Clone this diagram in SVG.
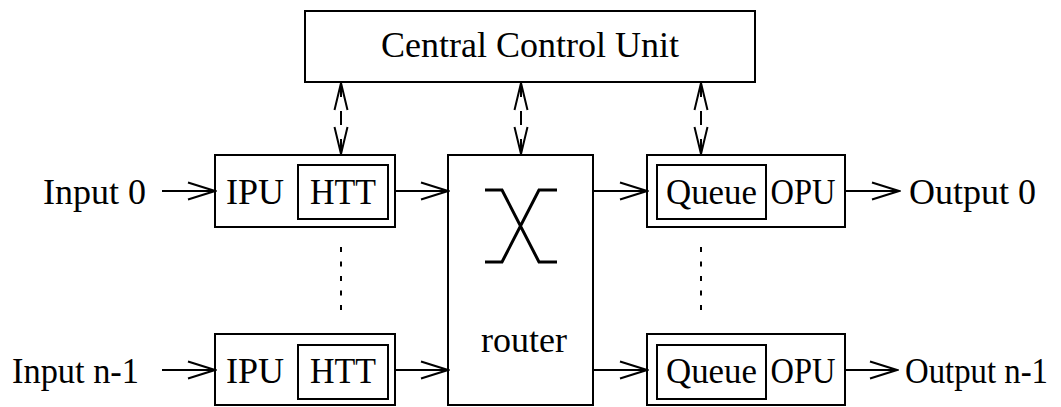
<svg xmlns="http://www.w3.org/2000/svg" width="1061" height="407" viewBox="0 0 1061 407">
  <style>
    .box { fill: #fff; stroke: #000; stroke-width: 2; }
    .inner { fill: none; stroke: #000; stroke-width: 2; }
    .lbl { font-family: "Liberation Serif", "Times New Roman", serif; font-size: 36px; fill: #000; }
    .flow { stroke: #000; stroke-width: 2; fill: none; marker-end: url(#open); }
    .ctl { stroke: #000; stroke-width: 2; fill: none; stroke-dasharray: 14 14; marker-start: url(#openC); marker-end: url(#openC); }
    .dots { stroke: #000; stroke-width: 2; stroke-dasharray: 5 9.5; }
    .xbar { stroke: #000; stroke-width: 3; fill: none; }
  </style>
  <defs>
    <!-- open V arrowhead for data paths -->
    <marker id="open" viewBox="-30 -10 32 20" refX="0" refY="0" markerWidth="32" markerHeight="20" markerUnits="userSpaceOnUse" orient="auto">
      <path d="M-27,-8.5 L0,0 L-27,8.5" fill="none" stroke="#000" stroke-width="2"/>
    </marker>
    <!-- narrower open arrowhead for control links, both ends -->
    <marker id="openC" viewBox="-30 -10 32 20" refX="0" refY="0" markerWidth="32" markerHeight="20" markerUnits="userSpaceOnUse" orient="auto-start-reverse">
      <path d="M-27,-6.5 L0,0 L-27,6.5" fill="none" stroke="#000" stroke-width="2" stroke-dasharray="none"/>
    </marker>
  </defs>

  <g id="ccu">
    <rect class="box" x="305" y="11" width="450" height="71"/>
    <text class="lbl" x="530" y="57" text-anchor="middle">Central Control Unit</text>
  </g>

  <g id="ipu0">
    <rect class="box" x="215" y="155" width="180" height="72"/>
    <text class="lbl" x="226" y="204">IPU</text>
    <rect class="inner" x="298" y="165" width="90" height="54"/>
    <text class="lbl" x="343" y="204" text-anchor="middle" textLength="66" lengthAdjust="spacingAndGlyphs">HTT</text>
  </g>

  <g id="ipu1">
    <rect class="box" x="215" y="334" width="180" height="71"/>
    <text class="lbl" x="226" y="383">IPU</text>
    <rect class="inner" x="298" y="345" width="90" height="54"/>
    <text class="lbl" x="343" y="383" text-anchor="middle" textLength="66" lengthAdjust="spacingAndGlyphs">HTT</text>
  </g>

  <g id="router">
    <rect class="box" x="448" y="155" width="145" height="250"/>
    <path class="xbar" d="M485,190 H502 L539,262 H557 M485,262 H502 L539,190 H557"/>
    <text class="lbl" x="524" y="352" text-anchor="middle">router</text>
  </g>

  <g id="opu0">
    <rect class="box" x="647" y="155" width="198" height="72"/>
    <rect class="inner" x="657" y="165" width="109" height="54"/>
    <text class="lbl" x="711.5" y="204" text-anchor="middle" textLength="91" lengthAdjust="spacingAndGlyphs">Queue</text>
    <text class="lbl" x="803" y="204" text-anchor="middle" textLength="65" lengthAdjust="spacingAndGlyphs">OPU</text>
  </g>

  <g id="opu1">
    <rect class="box" x="647" y="334" width="198" height="71"/>
    <rect class="inner" x="657" y="345" width="109" height="54"/>
    <text class="lbl" x="711.5" y="383" text-anchor="middle" textLength="91" lengthAdjust="spacingAndGlyphs">Queue</text>
    <text class="lbl" x="803" y="383" text-anchor="middle" textLength="65" lengthAdjust="spacingAndGlyphs">OPU</text>
  </g>

  <g id="port-labels">
    <text class="lbl" x="43" y="204">Input 0</text>
    <text class="lbl" x="12" y="383" textLength="127" lengthAdjust="spacingAndGlyphs">Input n-1</text>
    <text class="lbl" x="909" y="204">Output 0</text>
    <text class="lbl" x="905" y="383" textLength="143" lengthAdjust="spacingAndGlyphs">Output n-1</text>
  </g>

  <g id="connectors">
    <!-- data paths -->
    <line class="flow" x1="162" y1="191" x2="215" y2="191"/>
    <line class="flow" x1="395" y1="191" x2="448" y2="191"/>
    <line class="flow" x1="593" y1="191" x2="647" y2="191"/>
    <line class="flow" x1="845" y1="191" x2="899" y2="191"/>
    <line class="flow" x1="162" y1="370" x2="215" y2="370"/>
    <line class="flow" x1="395" y1="370" x2="448" y2="370"/>
    <line class="flow" x1="593" y1="370" x2="647" y2="370"/>
    <line class="flow" x1="845" y1="370" x2="897" y2="370"/>
    <!-- control links to the central unit -->
    <line class="ctl" x1="341" y1="83" x2="341" y2="154"/>
    <line class="ctl" x1="521" y1="83" x2="521" y2="154"/>
    <line class="ctl" x1="701" y1="83" x2="701" y2="154"/>
    <!-- elided ports -->
    <line class="dots" x1="341" y1="247" x2="341" y2="312"/>
    <line class="dots" x1="701" y1="247" x2="701" y2="312"/>
  </g>
</svg>
